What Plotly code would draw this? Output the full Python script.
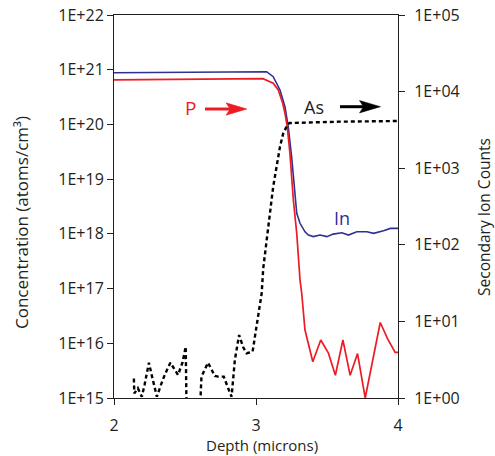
import plotly.graph_objects as go

# ---- data ----
in_depth = [2.00, 2.30, 2.60, 2.90, 3.075, 3.121, 3.169, 3.204, 3.227, 3.251, 3.287, 3.310,
            3.345, 3.369, 3.404, 3.451, 3.499, 3.543, 3.605, 3.651, 3.710, 3.781, 3.828,
            3.898, 3.946, 4.000]
in_conc = [8.8e20, 8.9e20, 9.0e20, 9.1e20, 9.2e20, 7.45e20, 4.26e20, 2.11e20, 9.1e19, 2.57e19,
           2.37e18, 1.56e18, 1.09e18, 9.5e17, 8.9e17, 9.5e17, 8.9e17, 9.9e17, 1.05e18, 9.5e17,
           1.09e18, 1.09e18, 1.02e18, 1.14e18, 1.26e18, 1.26e18]

p_depth = [2.00, 2.30, 2.60, 2.90, 3.049, 3.121, 3.157, 3.188, 3.204, 3.220, 3.239, 3.263,
           3.287, 3.310, 3.322, 3.345, 3.400, 3.456, 3.510, 3.559, 3.612, 3.663, 3.715,
           3.769, 3.875, 3.927, 3.980, 4.000]
p_conc = [6.5e20, 6.6e20, 6.7e20, 6.8e20, 6.85e20, 5.65e20, 4.26e20, 2.43e20, 1.6e20, 9.1e19,
          2.96e19, 4.16e18, 1.02e18, 1.43e17, 8.2e16, 1.75e16, 4.6e15, 1.15e16, 6.6e15,
          2.6e15, 1.15e16, 2.6e15, 6.5e15, 1.0e15, 2.4e16, 1.2e16, 6.8e15, 6.8e15]

as_depth = [2.140, 2.143, 2.168, 2.196, 2.215, 2.234, 2.246, 2.267, 2.286, 2.302, 2.328, 2.357,
            2.397, 2.451, 2.482, 2.505, 2.512, 2.606, 2.611, 2.616, 2.662, 2.710, 2.733,
            2.773, 2.804, 2.828, 2.851, 2.881, 2.910, 2.934, 2.976, 3.004, 3.023, 3.040,
            3.051, 3.075, 3.098, 3.121, 3.169, 3.192, 3.225, 3.239, 3.592, 3.995]
as_counts = [1.8, 1.15, 1.34, 1.04, 1.48, 2.1, 2.89, 1.94, 1.34, 1.04, 1.44, 2.0,
             2.89, 2.0, 2.89, 4.68, 0.5, 0.5, 1.21, 1.9, 2.89, 1.94, 1.9,
             1.9, 1.34, 1.04, 3.13, 6.64, 4.59, 3.84, 4.02, 8.53, 12.8, 23.3,
             49.3, 116, 284, 573, 1910, 2860, 3780, 3890, 4050, 4130]

x_ticks = [2, 3, 4]
left_tickvals = [1e15, 1e16, 1e17, 1e18, 1e19, 1e20, 1e21, 1e22]
left_ticktext = ["1E+15", "1E+16", "1E+17", "1E+18", "1E+19", "1E+20", "1E+21", "1E+22"]
right_tickvals = [1, 10, 100, 1e3, 1e4, 1e5]
right_ticktext = ["1E+00", "1E+01", "1E+02", "1E+03", "1E+04", "1E+05"]

RED = "#ed1c24"
BLUE = "#2e3192"
INK = "#231f20"
FONT = "Open Sans"

# plot-area geometry in pixels (for converting decoration positions to paper coords)
L_PX, R_PX, T_PX, B_PX = 114, 398, 15, 398
def px(x):
    return (x - L_PX) / (R_PX - L_PX)
def py(y):
    return (B_PX - y) / (B_PX - T_PX)

fig = go.Figure()
fig.add_trace(go.Scatter(x=in_depth, y=in_conc, mode="lines", name="In",
                         line=dict(color=BLUE, width=1.6), yaxis="y"))
fig.add_trace(go.Scatter(x=p_depth, y=p_conc, mode="lines", name="P",
                         line=dict(color=RED, width=1.7), yaxis="y"))
fig.add_trace(go.Scatter(x=as_depth, y=as_counts, mode="lines", name="As",
                         line=dict(color="black", width=2.4, dash="4px,3px"), yaxis="y2"))

axis_common = dict(showgrid=False, zeroline=False, showline=True, linecolor=INK, linewidth=1,
                   tickcolor=INK, automargin=False,
                   tickfont=dict(family=FONT, size=16, color=INK))

fig.update_layout(
    template="none",
    width=495, height=456,
    margin=dict(l=L_PX, r=495 - R_PX, t=T_PX, b=456 - B_PX, autoexpand=False),
    paper_bgcolor="white", plot_bgcolor="white",
    showlegend=False,
    font=dict(family=FONT, color=INK, size=16),
    xaxis=dict(range=[2, 4], tickvals=x_ticks, ticktext=[str(v) for v in x_ticks],
               ticks="outside", ticklen=6, mirror=True, ticklabelstandoff=7, **axis_common),
    yaxis=dict(type="log", range=[15, 22], tickvals=left_tickvals, ticktext=left_ticktext,
               ticks="outside", ticklen=6, **axis_common),
    yaxis2=dict(type="log", range=[0, 5], tickvals=right_tickvals, ticktext=right_ticktext,
                overlaying="y", side="right", anchor="x",
                ticks="outside", ticklen=6, ticklabelstandoff=6, **axis_common),
    yaxis3=dict(type="log", range=[0, 5], tickvals=right_tickvals, overlaying="y",
                side="right", anchor="x", ticks="inside", ticklen=6, tickcolor=INK,
                showticklabels=False, showline=False, showgrid=False, zeroline=False,
                automargin=False),
)

def label(text, x, y, angle=0, size=16, color=INK):
    fig.add_annotation(text=text, xref="paper", yref="paper", x=px(x), y=py(y),
                       textangle=angle, showarrow=False, xanchor="center", yanchor="middle",
                       borderpad=0,
                       font=dict(family=FONT, size=size, color=color))

# axis titles
label("Concentration (atoms/cm³)", 21, 223, angle=-90, size=17)
label("Secondary Ion Counts", 484, 217, angle=-90, size=15.5)
label("Depth (microns)", 262, 445.5, size=15)

# series labels
label("P", 190, 108, size=19, color=RED)
label("As", 313.7, 106.7, size=18, color=INK)
label("In", 341.7, 218.3, size=18, color=BLUE)

# arrows (shaft + swept head)
def arrow(x0, x1, y, color):
    fig.add_shape(type="line", xref="paper", yref="paper",
                  x0=px(x0), x1=px(x1 - 16), y0=py(y), y1=py(y),
                  line=dict(color=color, width=3))
    path = (f"M {px(x1 - 21)},{py(y - 6.2)} L {px(x1)},{py(y)} "
            f"L {px(x1 - 21)},{py(y + 6.2)} L {px(x1 - 17)},{py(y)} Z")
    fig.add_shape(type="path", xref="paper", yref="paper", path=path,
                  fillcolor=color, line=dict(color=color, width=0.5))

arrow(205, 247, 109, RED)
arrow(340, 380.5, 106.7, "black")

fig.write_html("out.html", config={"displayModeBar": False},
               post_script="document.body.style.margin='0px';")
